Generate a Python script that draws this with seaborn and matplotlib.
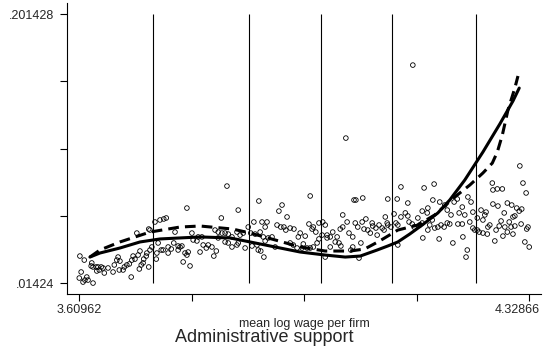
import matplotlib
matplotlib.use("Agg")
import matplotlib.pyplot as plt
import matplotlib.transforms as mtransforms
import seaborn as sns
import pandas as pd

# Firm-level observations: mean log wage vs. share
wage_x = [
    3.611, 3.618, 3.613, 3.610, 3.616, 3.619, 3.622, 3.624, 3.632, 3.630,
    3.629, 3.632, 3.637, 3.640, 3.645, 3.648, 3.642, 3.638, 3.650, 3.656,
    3.664, 3.666, 3.670, 3.672, 3.675, 3.674, 3.680, 3.682, 3.686, 3.690,
    3.693, 3.694, 3.696, 3.699, 3.702, 3.704, 3.707, 3.706, 3.709, 3.712,
    3.713, 3.717, 3.718, 3.721, 3.723, 3.723, 3.726, 3.731, 3.733, 3.734,
    3.736, 3.739, 3.741, 3.744, 3.745, 3.721, 3.763,
    3.749, 3.846, 3.782, 3.864, 3.837, 3.889, 3.897, 3.790, 3.827, 3.832,
    3.838, 3.843, 3.848, 3.854, 3.862, 3.867, 3.872, 3.880, 3.884, 3.891,
    3.752, 3.757, 3.752, 3.761, 3.768, 3.771, 3.774, 3.768, 3.779, 3.784,
    3.782, 3.776, 3.787, 3.792, 3.798, 3.800, 3.806, 3.803, 3.808, 3.813,
    3.816, 3.822, 3.825, 3.829, 3.832, 3.843, 3.848, 3.854, 3.862, 3.864,
    3.875, 3.886, 3.894, 3.896,
    4.036, 3.979, 3.934, 3.929, 3.942, 3.902, 3.910, 3.907, 3.926, 3.932,
    3.937, 3.940, 3.947, 3.953, 3.963, 3.960, 3.971, 3.977, 3.982, 3.984,
    3.988, 3.993, 3.999, 4.003, 3.998, 4.006, 4.011, 4.015, 4.022, 4.027,
    4.031, 4.038, 4.031, 4.041, 4.047, 4.049, 3.899, 3.904, 3.912, 3.918,
    3.900, 3.905, 3.923, 3.907, 3.947, 3.952, 3.958, 3.968, 3.974, 3.966,
    3.979, 3.984, 3.990, 3.993, 4.003, 4.006, 4.011, 4.019, 4.025, 4.028,
    4.044, 4.047,
    4.124, 4.161, 4.177, 4.052, 4.063, 4.103, 4.118, 4.135, 4.167, 4.158,
    4.175, 4.186, 4.194, 4.198, 4.051, 4.055, 4.062, 4.068, 4.065, 4.071,
    4.075, 4.078, 4.079, 4.084, 4.089, 4.094, 4.097, 4.102, 4.099, 4.103,
    4.108, 4.113, 4.116, 4.119, 4.124, 4.131, 4.135, 4.137, 4.142, 4.145,
    4.151, 4.154, 4.158, 4.166, 4.174, 4.170, 4.167, 4.178, 4.183, 4.188,
    4.193, 4.198, 4.159, 4.185, 4.060, 4.086, 4.119, 4.057,
    4.314, 4.319, 4.324, 4.270, 4.271, 4.278, 4.286, 4.231, 4.236, 4.209,
    4.271, 4.279, 4.294, 4.301, 4.309, 4.313, 4.317, 4.222, 4.217, 4.226,
    4.239, 4.252, 4.260, 4.258, 4.255, 4.246, 4.289, 4.306, 4.303, 4.204,
    4.202, 4.215, 4.222, 4.234, 4.239, 4.242, 4.246, 4.249, 4.255, 4.262,
    4.263, 4.266, 4.276, 4.281, 4.284, 4.290, 4.294, 4.297, 4.300, 4.303,
    4.306, 4.316, 4.325, 4.327, 4.287, 4.274, 4.223, 4.207, 4.322, 4.329,
    4.230, 4.228, 4.214, 4.143,
]
share_y = [
    0.0330, 0.0302, 0.0219, 0.0177, 0.0149, 0.0163, 0.0184, 0.0163, 0.0142, 0.0282,
    0.0261, 0.0254, 0.0254, 0.0254, 0.0254, 0.0247, 0.0233, 0.0226, 0.0212, 0.0247,
    0.0219, 0.0268, 0.0302, 0.0323, 0.0295, 0.0233, 0.0233, 0.0254, 0.0268, 0.0275,
    0.0184, 0.0302, 0.0330, 0.0309, 0.0490, 0.0337, 0.0365, 0.0240, 0.0268, 0.0282,
    0.0309, 0.0330, 0.0351, 0.0254, 0.0511, 0.0372, 0.0393, 0.0567, 0.0309, 0.0351,
    0.0421, 0.0581, 0.0372, 0.0372, 0.0588, 0.0518, 0.0497,
    0.0595, 0.0817, 0.0664, 0.0650, 0.0595, 0.0567, 0.0713, 0.0490, 0.0511, 0.0497,
    0.0490, 0.0490, 0.0483, 0.0463, 0.0497, 0.0476, 0.0490, 0.0532, 0.0490, 0.0483,
    0.0393, 0.0379, 0.0351, 0.0421, 0.0400, 0.0393, 0.0400, 0.0372, 0.0351, 0.0358,
    0.0337, 0.0289, 0.0261, 0.0442, 0.0435, 0.0463, 0.0463, 0.0358, 0.0407, 0.0386,
    0.0407, 0.0393, 0.0330, 0.0365, 0.0456, 0.0428, 0.0421, 0.0393, 0.0407, 0.0421,
    0.0386, 0.0400, 0.0407, 0.0372,
    0.1151, 0.0748, 0.0685, 0.0643, 0.0602, 0.0567, 0.0567, 0.0532, 0.0546, 0.0532,
    0.0532, 0.0511, 0.0525, 0.0518, 0.0490, 0.0463, 0.0469, 0.0553, 0.0518, 0.0532,
    0.0497, 0.0560, 0.0567, 0.0546, 0.0476, 0.0476, 0.0463, 0.0497, 0.0463, 0.0518,
    0.0532, 0.0567, 0.0616, 0.0490, 0.0463, 0.0720, 0.0497, 0.0463, 0.0456, 0.0463,
    0.0365, 0.0323, 0.0393, 0.0435, 0.0421, 0.0407, 0.0386, 0.0414, 0.0386, 0.0386,
    0.0386, 0.0393, 0.0421, 0.0449, 0.0323, 0.0456, 0.0393, 0.0428, 0.0421, 0.0400,
    0.0372, 0.0393,
    0.0811, 0.0804, 0.0831, 0.0720, 0.0734, 0.0727, 0.0727, 0.0699, 0.0664, 0.0643,
    0.0720, 0.0706, 0.0685, 0.0650, 0.0560, 0.0532, 0.0567, 0.0588, 0.0518, 0.0511,
    0.0490, 0.0560, 0.0539, 0.0525, 0.0546, 0.0525, 0.0511, 0.0560, 0.0602, 0.0546,
    0.0532, 0.0623, 0.0560, 0.0546, 0.0602, 0.0630, 0.0609, 0.0567, 0.0553, 0.0532,
    0.0595, 0.0546, 0.0560, 0.0630, 0.0581, 0.0546, 0.0511, 0.0525, 0.0532, 0.0546,
    0.0532, 0.0560, 0.0456, 0.0449, 0.0421, 0.0476, 0.0407, 0.0316,
    0.0957, 0.0838, 0.0769, 0.0838, 0.0790, 0.0797, 0.0797, 0.0741, 0.0706, 0.0706,
    0.0692, 0.0678, 0.0699, 0.0685, 0.0664, 0.0643, 0.0657, 0.0671, 0.0630, 0.0616,
    0.0636, 0.0650, 0.0636, 0.0616, 0.0581, 0.0595, 0.0630, 0.0609, 0.0602, 0.0616,
    0.0553, 0.0553, 0.0553, 0.0567, 0.0525, 0.0511, 0.0511, 0.0497, 0.0490, 0.0483,
    0.0532, 0.0546, 0.0511, 0.0539, 0.0574, 0.0532, 0.0497, 0.0567, 0.0532, 0.0483,
    0.0539, 0.0553, 0.0518, 0.0532, 0.0469, 0.0435, 0.0463, 0.0421, 0.0428, 0.0393,
    0.0372, 0.0323, 0.0727, 0.1659,
]

# Smoothed curves
solid_x = [3.627, 3.643, 3.675, 3.707, 3.739, 3.771, 3.803, 3.851, 3.883, 3.923,
           3.963, 4.003, 4.035, 4.059, 4.086, 4.103, 4.119, 4.138, 4.158, 4.183,
           4.202, 4.226, 4.255, 4.282, 4.303, 4.313]
solid_y = [0.0323, 0.0351, 0.0386, 0.0428, 0.0449, 0.0456, 0.0463, 0.0456, 0.0428, 0.0393,
           0.0358, 0.0337, 0.0323, 0.0330, 0.0372, 0.0400, 0.0428, 0.0483, 0.0546, 0.0630,
           0.0720, 0.0859, 0.1054, 0.1249, 0.1409, 0.1499]
dashed_x = [3.627, 3.643, 3.675, 3.723, 3.771, 3.803, 3.855, 3.883, 3.923, 3.963,
            4.003, 4.043, 4.066, 4.090, 4.119, 4.151, 4.178, 4.210, 4.234, 4.255,
            4.270, 4.278, 4.286, 4.295, 4.306, 4.311]
dashed_y = [0.0323, 0.0372, 0.0428, 0.0497, 0.0532, 0.0539, 0.0518, 0.0490, 0.0442, 0.0393,
            0.0365, 0.0365, 0.0379, 0.0435, 0.0511, 0.0546, 0.0616, 0.0741, 0.0824, 0.0908,
            0.0977, 0.1054, 0.1172, 0.1346, 0.1499, 0.1583]

# Bin boundaries
cutoffs = [3.728, 3.881, 3.996, 4.110, 4.244]

x_min, x_max = 3.60962, 4.32866
y_min, y_max = 0.01424, 0.201428
x_labels = ["3.60962", "", "", "", "4.32866"]
y_labels = [".01424", "", "", "", ".201428"]
x_label = "mean log wage per firm"
title = "Administrative support"

sns.set_style("ticks")
plt.rcParams["font.family"] = ["Liberation Sans", "DejaVu Sans"]

fig = plt.figure(figsize=(5.45, 3.53), dpi=100)
ax = fig.add_axes([67 / 545, 1 - 294 / 353, 474 / 545, 291 / 353])

pts = pd.DataFrame({"x": wage_x, "y": share_y})
sns.scatterplot(data=pts, x="x", y="y", ax=ax, marker="o", s=11,
                facecolor="none", edgecolor="black", linewidth=0.6, zorder=3)

ax.vlines(cutoffs, y_min, y_max, colors="black", linewidth=0.8, zorder=1)

sns.lineplot(x=solid_x, y=solid_y, ax=ax, color="black", linewidth=2.2,
             sort=False, zorder=4)
sns.lineplot(x=dashed_x, y=dashed_y, ax=ax, color="black", linewidth=2.2,
             sort=False, zorder=4, dashes=False, linestyle=(0, (3.5, 2)))

ax.set_xlim(3.5904, 4.3478)
ax.set_ylim(0.00659, 0.2091)

step_x = (x_max - x_min) / 4
step_y = (y_max - y_min) / 4
ax.set_xticks([x_min + i * step_x for i in range(5)])
ax.set_xticklabels(x_labels, fontsize=9)
ax.set_yticks([y_min + i * step_y for i in range(5)])
ax.set_yticklabels(y_labels, fontsize=9)
ax.tick_params(axis="both", length=5, width=0.8, color="black")
ax.tick_params(axis="x", pad=2)
ax.tick_params(axis="y", pad=4.5)

# keep the last x label inside the figure
last = ax.get_xticklabels()[-1]
last.set_transform(last.get_transform() +
                   mtransforms.ScaledTranslation(-0.12, 0, fig.dpi_scale_trans))

for side in ["top", "right"]:
    ax.spines[side].set_visible(False)
for side in ["left", "bottom"]:
    ax.spines[side].set_linewidth(0.8)
    ax.spines[side].set_color("black")

ax.set_xlabel(x_label, fontsize=9, labelpad=2)
ax.set_ylabel("")
fig.text(264 / 545, 1 - 338 / 353, title, ha="center", va="center", fontsize=13)

fig.savefig("out.png", dpi=100)
